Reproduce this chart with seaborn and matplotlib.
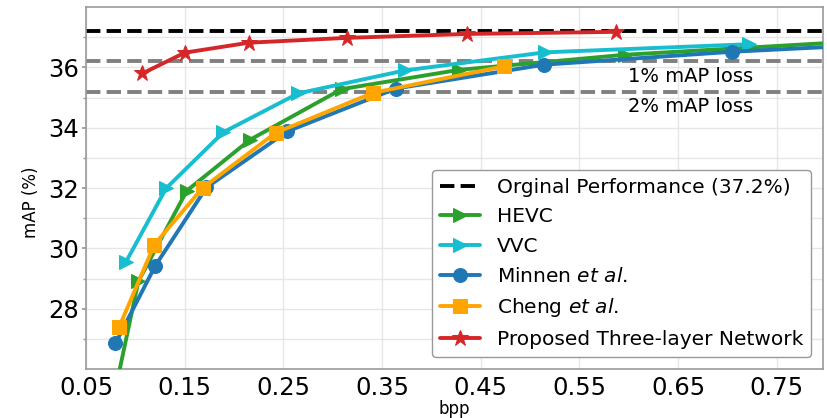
import numpy as np
import pandas as pd
import matplotlib
matplotlib.use("Agg")
import matplotlib.pyplot as plt
import seaborn as sns

# ---- data ----
hevc_bpp = [0.075, 0.103, 0.152, 0.216, 0.309, 0.428, 0.596, 0.85]
hevc_map = [24.6, 28.91, 31.91, 33.6, 35.28, 35.92, 36.42, 36.9]

vvc_bpp = [0.0905, 0.131, 0.189, 0.265, 0.373, 0.515, 0.722]
vvc_map = [29.56, 31.99, 33.85, 35.14, 35.90, 36.50, 36.77]

minnen_bpp = [0.0797, 0.120, 0.172, 0.254, 0.364, 0.514, 0.705, 0.95]
minnen_map = [26.85, 29.42, 32.02, 33.88, 35.30, 36.09, 36.52, 36.92]

cheng_bpp = [0.0837, 0.1192, 0.168, 0.242, 0.341, 0.474]
cheng_map = [27.41, 30.13, 32.0, 33.83, 35.16, 36.04]

prop_bpp = [0.107, 0.150, 0.215, 0.314, 0.436, 0.587]
prop_map = [35.80, 36.49, 36.82, 36.98, 37.11, 37.18]

orig_perf = 37.2
loss_levels = [36.2, 35.2]
loss_labels = ["1% mAP loss", "2% mAP loss"]

xticks = [0.05, 0.15, 0.25, 0.35, 0.45, 0.55, 0.65, 0.75]
yticks = [28, 30, 32, 34, 36]

# ---- style ----
sns.set_theme(style="whitegrid", rc={"text.color": "black", "axes.labelcolor": "black",
                                     "xtick.color": "black", "ytick.color": "black"})
plt.rcParams["font.family"] = ["DejaVu Sans"]
plt.rcParams["mathtext.fontset"] = "dejavusans"

fig = plt.figure(figsize=(8.28, 4.18), dpi=100)
ax = fig.add_axes([0.104, 0.117, 0.890, 0.866])

lw = 2.8
ax.axhline(orig_perf, color="black", ls="--", lw=lw, label="Orginal Performance (37.2%)", zorder=2)
for lv in loss_levels:
    ax.axhline(lv, color="gray", ls="--", lw=lw, zorder=2)

series = [
    (hevc_bpp, hevc_map, "HEVC", "#2ca02c", ">", 10),
    (vvc_bpp, vvc_map, "VVC", "#17becf", ">", 10),
    (minnen_bpp, minnen_map, r"Minnen $\it{et\ al}$.", "#1f77b4", "o", 10),
    (cheng_bpp, cheng_map, r"Cheng $\it{et\ al}$.", "#ffa500", "s", 10),
    (prop_bpp, prop_map, "Proposed Three-layer Network", "#d62728", "*", 12),
]
for xs, ys, lab, col, mk, ms in series:
    df = pd.DataFrame({"bpp": xs, "mAP": ys})
    sns.lineplot(data=df, x="bpp", y="mAP", ax=ax, color=col, marker=mk,
                 markersize=ms, markeredgecolor=col, lw=lw, label=lab,
                 sort=False, estimator=None, zorder=3)

ax.text(0.599, 35.70, loss_labels[0], fontsize=14, va="center", ha="left")
ax.text(0.599, 34.69, loss_labels[1], fontsize=14, va="center", ha="left")

ax.set_xlim(0.05, 0.797)
ax.set_ylim(26, 38)
ax.set_xticks(xticks)
ax.set_xticklabels([f"{t:.2f}" for t in xticks])
ax.set_yticks(yticks)
ax.set_yticks(np.arange(27, 38, 2), minor=True)
ax.tick_params(axis="both", which="major", labelsize=17.5, length=3, color="#999999", pad=2, left=True)
ax.tick_params(axis="y", which="minor", length=2, color="#999999", left=True)
ax.grid(True, which="major", color="#e6e6e6", lw=1)
ax.grid(True, which="minor", axis="y", color="#e6e6e6", lw=1)
for s in ax.spines.values():
    s.set_color("#999999")
    s.set_linewidth(1.2)

ax.set_xlabel("bpp", fontsize=12, labelpad=0)
ax.set_ylabel("mAP (%)", fontsize=12, labelpad=2)
ax.yaxis.set_label_coords(-0.062, 0.46)

leg = ax.legend(loc="lower right", fontsize=14.5, frameon=True, borderaxespad=0.6,
                handlelength=2, labelspacing=0.53, borderpad=0.4)
leg.get_frame().set_edgecolor("#999999")
leg.get_frame().set_alpha(1)

fig.savefig("out.png", dpi=100, facecolor="white")
